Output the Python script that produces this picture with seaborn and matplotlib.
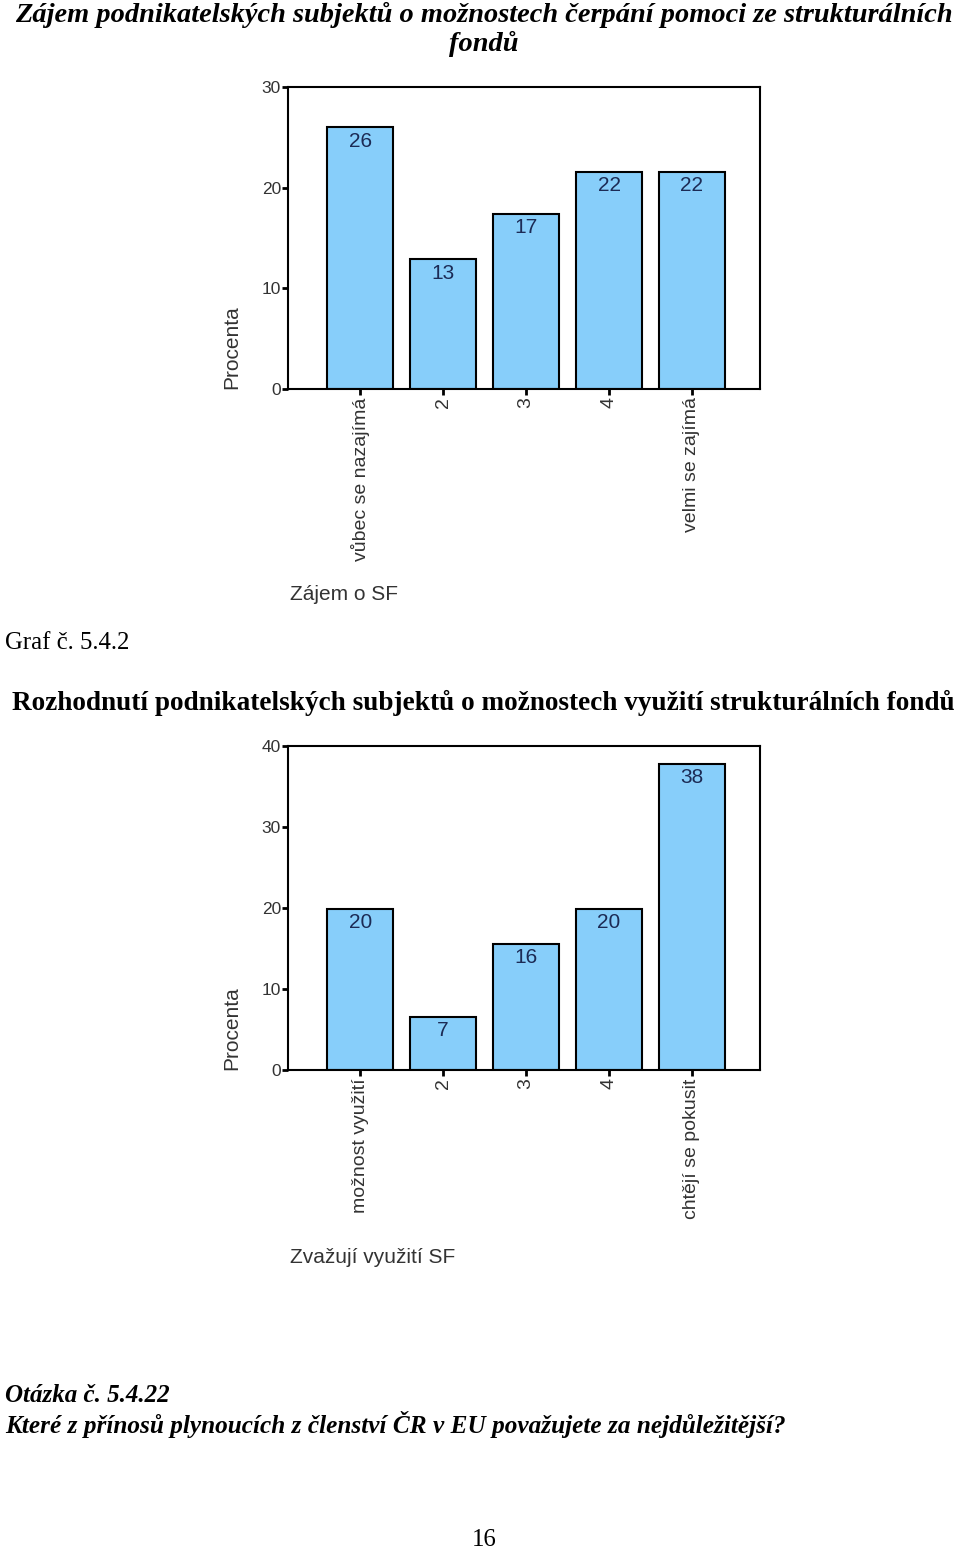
import matplotlib
matplotlib.use("Agg")
import matplotlib.pyplot as plt
import seaborn as sns
import pandas as pd

# Data (percent)
zajem_kategorie = ["vůbec se nazajímá", "2", "3", "4", "velmi se zajímá"]
zajem_procenta = [26.0, 12.9, 17.4, 21.6, 21.6]

vyuziti_kategorie = ["možnost využití", "2", "3", "4", "chtějí se pokusit"]
vyuziti_procenta = [19.9, 6.6, 15.6, 19.9, 37.8]

BAR_COLOR = "#87CEFA"
LABEL_COLOR = "#1c2b55"
TEXT_GREY = "#333333"

sns.set_theme(style="white")
plt.rcParams["font.family"] = ["Liberation Sans", "DejaVu Sans"]

fig = plt.figure(figsize=(9.6, 15.5), dpi=100)
W, H = 960, 1550


def px_axes(left, top, right, bottom):
    return fig.add_axes([left / W, 1 - bottom / H, (right - left) / W, (bottom - top) / H])


def draw_chart(ax, cats, vals, ymax, xlabel, xlabel_y):
    df = pd.DataFrame({"kat": cats, "proc": vals})
    sns.barplot(data=df, x="kat", y="proc", ax=ax, color=BAR_COLOR, saturation=1,
                edgecolor="black", linewidth=1.5, width=0.8)
    ax.set_xlim(-0.87, 4.82)
    ax.set_ylim(0, ymax)
    ax.set_yticks(range(0, ymax + 1, 10))
    ax.bar_label(ax.containers[0], fmt="%.0f", padding=-17, color=LABEL_COLOR, fontsize=15)
    for s in ax.spines.values():
        s.set_visible(True)
        s.set_color("black")
        s.set_linewidth(1.5)
    ax.tick_params(axis="both", which="major", direction="out", length=4, width=2,
                   color="black", bottom=True, left=True)
    ax.tick_params(axis="y", labelsize=12.5, labelcolor=TEXT_GREY, pad=1)
    ax.tick_params(axis="x", labelsize=14, labelcolor=TEXT_GREY, pad=2, labelrotation=90)
    ax.set_ylabel("")
    ax.set_xlabel("")
    ax.text(-0.119, 0.0, "Procenta", transform=ax.transAxes, rotation=90,
            ha="center", va="bottom", fontsize=15, color=TEXT_GREY)
    ax.text(0.004, xlabel_y, xlabel, transform=ax.transAxes, ha="left", va="center",
            fontsize=15, color=TEXT_GREY)


ax1 = px_axes(288, 87, 760, 389)
draw_chart(ax1, zajem_kategorie, zajem_procenta, 30, "Zájem o SF", -0.679)

ax2 = px_axes(288, 746, 760, 1070)
draw_chart(ax2, vyuziti_kategorie, vyuziti_procenta, 40, "Zvažují využití SF", -0.58)

serif = ["Liberation Serif", "DejaVu Serif"]
fig.text(484 / W, 1 - 15 / H, "Zájem podnikatelských subjektů o možnostech čerpání pomoci ze strukturálních",
         ha="center", va="center", fontsize=20.4, fontweight="bold", fontstyle="italic",
         family=serif, color="black")
fig.text(484 / W, 1 - 44 / H, "fondů", ha="center", va="center", fontsize=20.4,
         fontweight="bold", fontstyle="italic", family=serif, color="black")
fig.text(5 / W, 1 - 643 / H, "Graf č. 5.4.2", ha="left", va="center", fontsize=17.8,
         family=serif, color="black")
fig.text(483 / W, 1 - 703 / H, "Rozhodnutí podnikatelských subjektů o možnostech využití strukturálních fondů",
         ha="center", va="center", fontsize=19.6, fontweight="bold", family=serif, color="black")
fig.text(5 / W, 1 - 1395 / H, "Otázka č. 5.4.22", ha="left", va="center", fontsize=18,
         fontweight="bold", fontstyle="italic", family=serif, color="black")
fig.text(5 / W, 1 - 1424 / H, "Které z přínosů plynoucích z členství ČR v EU považujete za nejdůležitější?",
         ha="left", va="center", fontsize=18.2, fontweight="bold", fontstyle="italic",
         family=serif, color="black")
fig.text(484 / W, 1 - 1540 / H, "16", ha="center", va="center", fontsize=17.8,
         family=serif, color="black")

fig.savefig("out.png", dpi=100)
